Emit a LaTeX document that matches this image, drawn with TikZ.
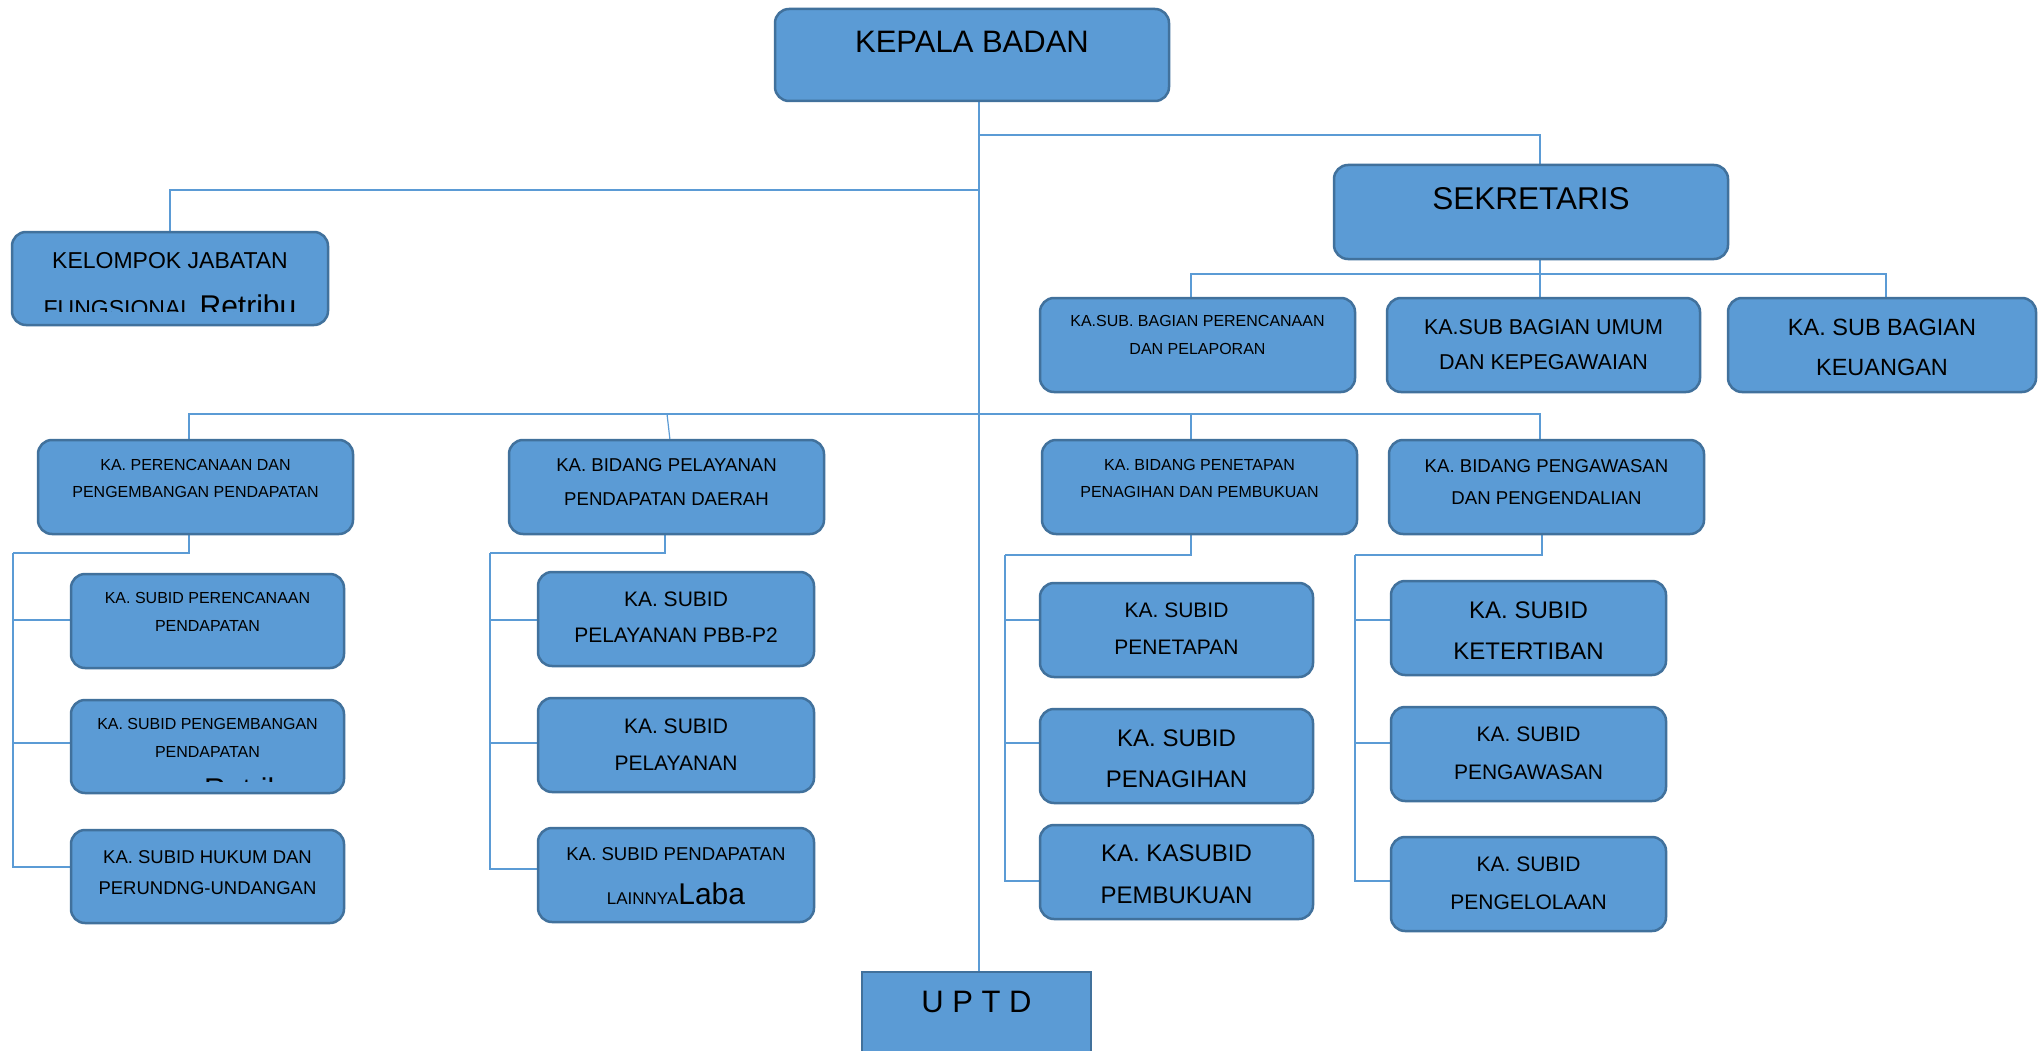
\documentclass[tikz,border=0pt]{standalone}
\usepackage{fontspec}
\setmainfont{Liberation Sans}
\definecolor{boxfill}{HTML}{5B9BD5}
\definecolor{boxline}{HTML}{41719C}
\definecolor{conncol}{HTML}{5B9BD5}
\begin{document}
\begin{tikzpicture}[x=1pt,y=-1pt,
  bx/.style={anchor=north west, inner sep=0pt, outer sep=0pt},
  boxshape/.style={draw=boxline, fill=boxfill, line width=2.5pt, rounded corners=14pt},
  sqshape/.style={draw=boxline, fill=boxfill, line width=2.5pt},
  conn/.style={draw=conncol, line width=1.2pt},
  tx/.style={align=center, inner sep=0pt, text=black},
  txb/.style={inner sep=0pt, text=black},
]
\clip (0,0) rectangle (2039,1051);
\fill[white] (0,0) rectangle (2039,1051);

% junction coordinates
\coordinate (jS) at (979,135);
\coordinate (jK) at (979,190);
\coordinate (jSS) at (1540,274);
\coordinate (jR) at (979,414);
\coordinate (k1) at (13,553);
\coordinate (k2) at (490,553);
\coordinate (k3) at (1005,555);
\coordinate (k4) at (1355,555);

% box nodes (shapes drawn after the connectors)
\path
  (775,9)    node[bx, minimum width=394pt, minimum height=92pt] (kepala) {}
  (1334,165) node[bx, minimum width=394pt, minimum height=94pt] (sek) {}
  (12,232)   node[bx, minimum width=316pt, minimum height=93pt] (kel) {}
  (1040,298) node[bx, minimum width=315pt, minimum height=94pt] (pp) {}
  (1387,298) node[bx, minimum width=313pt, minimum height=94pt] (umum) {}
  (1728,298) node[bx, minimum width=308pt, minimum height=94pt] (keu) {}
  (38,440)   node[bx, minimum width=315pt, minimum height=94pt] (b1) {}
  (509,440)  node[bx, minimum width=315pt, minimum height=94pt] (b2) {}
  (1042,440) node[bx, minimum width=315pt, minimum height=94pt] (b3) {}
  (1389,440) node[bx, minimum width=315pt, minimum height=94pt] (b4) {}
  (71,574)   node[bx, minimum width=273pt, minimum height=94pt] (c1a) {}
  (71,700)   node[bx, minimum width=273pt, minimum height=93pt] (c1b) {}
  (71,830)   node[bx, minimum width=273pt, minimum height=93pt] (c1c) {}
  (538,572)  node[bx, minimum width=276pt, minimum height=94pt] (c2a) {}
  (538,698)  node[bx, minimum width=276pt, minimum height=94pt] (c2b) {}
  (538,828)  node[bx, minimum width=276pt, minimum height=94pt] (c2c) {}
  (1040,583) node[bx, minimum width=273pt, minimum height=94pt] (c3a) {}
  (1040,709) node[bx, minimum width=273pt, minimum height=94pt] (c3b) {}
  (1040,825) node[bx, minimum width=273pt, minimum height=94pt] (c3c) {}
  (1391,581) node[bx, minimum width=275pt, minimum height=94pt] (c4a) {}
  (1391,707) node[bx, minimum width=275pt, minimum height=94pt] (c4b) {}
  (1391,837) node[bx, minimum width=275pt, minimum height=94pt] (c4c) {}
  (862,972)  node[bx, minimum width=229pt, minimum height=100pt] (uptd) {};

% ---------- connectors ----------
\draw[conn] ([xshift=7pt]kepala.south) -- ([xshift=7pt]kepala.south |- uptd.north);
\draw[conn] (jS) -| ([xshift=9pt]sek.north);
\draw[conn] (jK) -| (kel.north);
\draw[conn] ([xshift=9pt]sek.south) -- (jSS);
\draw[conn] ([xshift=-6.5pt]pp.north) |- ([xshift=4pt]keu.north |- jSS) -- ([xshift=4pt]keu.north);
\draw[conn] ([xshift=-3.5pt]umum.north) -- ([xshift=-3.5pt]umum.north |- jSS);
\draw[conn] ([xshift=-6.5pt]b1.north) |- ([xshift=-6.5pt]b4.north |- jR) -- ([xshift=-6.5pt]b4.north);
\draw[conn] ([xshift=-8.5pt]b3.north) -- ([xshift=-8.5pt]b3.north |- jR);
\draw[conn] ([xshift=3.5pt]b2.north) -- ([xshift=0.5pt]b2.north |- jR);
% column 1
\draw[conn] ([xshift=-6.5pt]b1.south) |- (k1);
\draw[conn] ([yshift=1pt]c1a.west) -| (k1);
\draw[conn] ([yshift=3.5pt]c1b.west) -| (k1);
\draw[conn] ([yshift=9.5pt]c1c.west) -| (k1);
% column 2
\draw[conn] ([xshift=-1.5pt]b2.south) |- (k2);
\draw[conn] ([yshift=-1pt]c2a.west) -| (k2);
\draw[conn] ([yshift=2pt]c2b.west) -| (k2);
\draw[conn] ([yshift=6pt]c2c.west) -| (k2);
% column 3
\draw[conn] ([xshift=-8.5pt]b3.south) |- (k3);
\draw[conn] ([yshift=10pt]c3a.west) -| (k3);
\draw[conn] ([yshift=13pt]c3b.west) -| (k3);
\draw[conn] ([yshift=-9pt]c3c.west) -| (k3);
% column 4
\draw[conn] ([xshift=-4.5pt]b4.south) |- (k4);
\draw[conn] ([yshift=8pt]c4a.west) -| (k4);
\draw[conn] ([yshift=11pt]c4b.west) -| (k4);
\draw[conn] ([yshift=3pt]c4c.west) -| (k4);

% ---------- box shapes on top of connectors ----------
\foreach \n in {kepala,sek,kel,pp,umum,keu,b1,b2,b3,b4,c1a,c1b,c1c,c2a,c2b,c2c,c3a,c3b,c3c,c4a,c4b,c4c}{
  \draw[boxshape] (\n.north west) rectangle (\n.south east);
}
\draw[sqshape] (uptd.north west) rectangle (uptd.south east);

% ---------- texts ----------
\node[tx, font=\fontsize{31}{37}\selectfont] (kepalaT) at (972,42.3) {KEPALA BADAN};
\node[tx, font=\fontsize{31.5}{38}\selectfont] (sekT) at (1531,198.5) {SEKRETARIS};
\node[txb, anchor=base, font=\fontsize{23}{28}\selectfont] (kelT1) at (170,268) {KELOMPOK JABATAN};
\begin{scope}
  \clip (12,240) rectangle (328,311);
  \node[txb, anchor=base, font=\fontsize{23}{28}\selectfont] (kelT2) at (170,316) {FUNGSIONAL {\fontsize{30}{36}\selectfont Retribu}};
\end{scope}
\node[tx, font=\fontsize{16}{28}\selectfont] (ppT) at (1197.5,335.2) {KA.SUB. BAGIAN PERENCANAAN\\DAN PELAPORAN};
\node[tx, font=\fontsize{21.5}{35}\selectfont] (umumT) at (1543.5,344.5) {KA.SUB BAGIAN UMUM\\DAN KEPEGAWAIAN};
\node[tx, font=\fontsize{23.5}{40}\selectfont] (keuT) at (1882,347.9) {KA. SUB BAGIAN\\KEUANGAN};

\node[tx, font=\fontsize{16}{27}\selectfont] (b1T) at (195.5,478.75) {KA. PERENCANAAN DAN\\PENGEMBANGAN PENDAPATAN};
\node[tx, font=\fontsize{18.6}{34}\selectfont] (b2T) at (666.5,482.3) {KA. BIDANG PELAYANAN\\PENDAPATAN DAERAH};
\node[tx, font=\fontsize{16}{27}\selectfont] (b3T) at (1199.5,478.75) {KA. BIDANG PENETAPAN\\PENAGIHAN DAN PEMBUKUAN};
\node[tx, font=\fontsize{18.6}{32}\selectfont] (b4T) at (1546.5,482.4) {KA. BIDANG PENGAWASAN\\DAN PENGENDALIAN};

\node[tx, font=\fontsize{16}{28}\selectfont] (c1aT) at (207.5,612.25) {KA. SUBID PERENCANAAN\\PENDAPATAN};
\node[tx, font=\fontsize{16}{28}\selectfont] (c1bT) at (207.5,738.25) {KA. SUBID PENGEMBANGAN\\PENDAPATAN};
\begin{scope}
  \clip (71,760) rectangle (344,781);
  \node[txb, anchor=base west, font=\fontsize{30}{36}\selectfont] (c1bX) at (204,799.5) {Retribu};
\end{scope}
\node[tx, font=\fontsize{18.5}{31}\selectfont] (c1cT) at (207.5,872.5) {KA. SUBID HUKUM DAN\\PERUNDNG-UNDANGAN};

\node[tx, font=\fontsize{21}{36}\selectfont] (c2aT) at (676,617.5) {KA. SUBID\\PELAYANAN PBB-P2};
\node[tx, font=\fontsize{21}{37}\selectfont] (c2bT) at (676,744.5) {KA. SUBID\\PELAYANAN};
\node[tx, font=\fontsize{18.6}{44}\selectfont] (c2cT) at (676,876.3) {KA. SUBID PENDAPATAN\\{\fontsize{17}{20}\selectfont LAINNYA}{\fontsize{30}{36}\selectfont Laba}};

\node[tx, font=\fontsize{21}{37}\selectfont] (c3aT) at (1176.5,629) {KA. SUBID\\PENETAPAN};
\node[tx, font=\fontsize{24}{41}\selectfont] (c3bT) at (1176.5,758.9) {KA. SUBID\\PENAGIHAN};
\node[tx, font=\fontsize{24}{42}\selectfont] (c3cT) at (1176.5,874.4) {KA. KASUBID\\PEMBUKUAN};

\node[tx, font=\fontsize{24}{41}\selectfont] (c4aT) at (1528.5,630.9) {KA. SUBID\\KETERTIBAN};
\node[tx, font=\fontsize{21}{38}\selectfont] (c4bT) at (1528.5,753.5) {KA. SUBID\\PENGAWASAN};
\node[tx, font=\fontsize{21}{38}\selectfont] (c4cT) at (1528.5,883.5) {KA. SUBID\\PENGELOLAAN};

\node[tx, font=\fontsize{31}{37}\selectfont] (uptdT) at (976.5,1001.9) {U P T D};
\end{tikzpicture}
\end{document}
